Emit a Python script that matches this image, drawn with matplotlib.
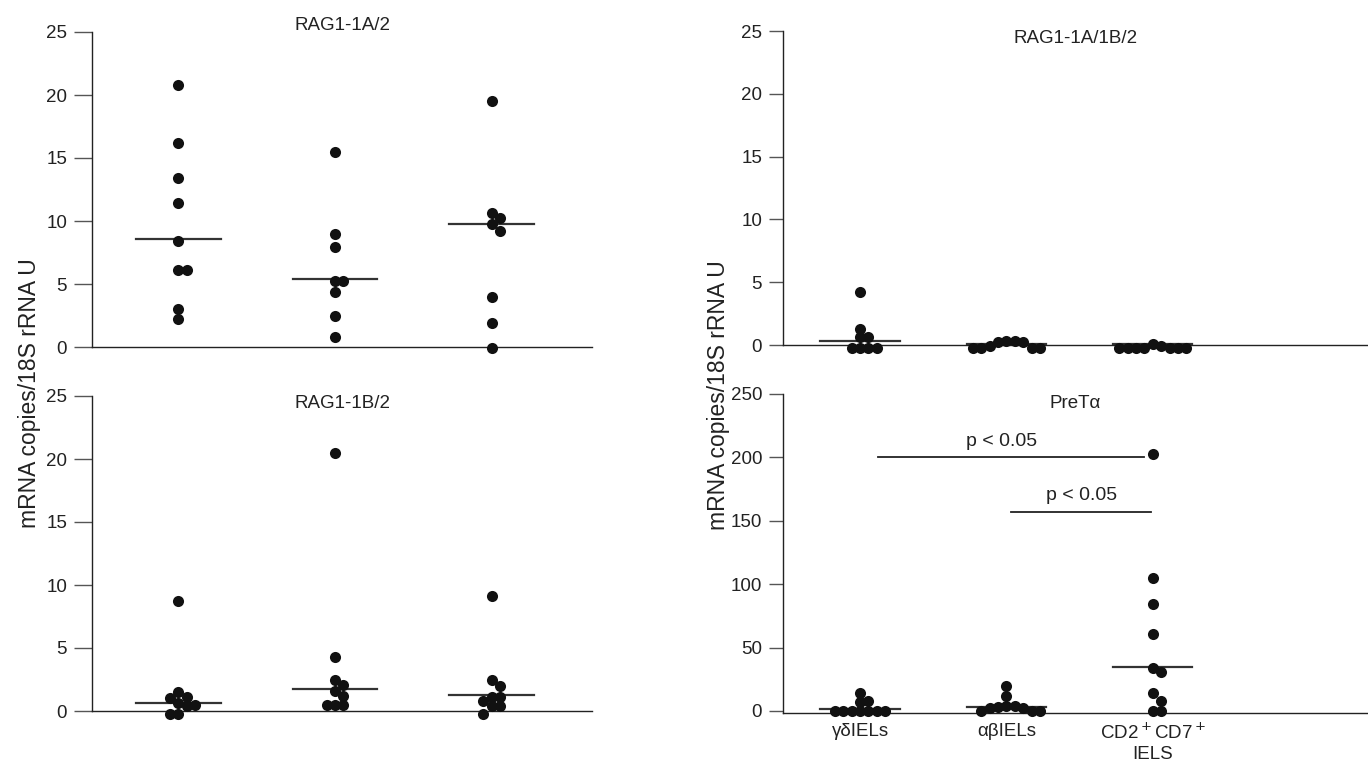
import numpy as np
import matplotlib.pyplot as plt

plt.rcParams['font.family'] = ['Liberation Sans', 'DejaVu Sans']

# values
groups = [1, 2, 3]
group_labels = ["γδIELs", "αβIELs", "CD2$^+$CD7$^+$\nIELS"]

rag_1a = [[20.8, 16.2, 13.4, 11.4, 8.4, 6.1, 6.1, 3.0, 2.2],
          [15.5, 9.0, 7.9, 5.2, 5.2, 4.4, 2.5, 0.8],
          [19.5, 10.6, 10.2, 9.8, 9.2, 4.0, 1.9, -0.1]]
rag_1a_med = [8.6, 5.4, 9.8]

rag_1b = [[8.7, 1.5, 1.1, 1.0, 0.6, 0.5, 0.4, -0.2, -0.2],
          [20.5, 4.3, 2.5, 2.1, 1.6, 1.2, 0.5, 0.5, 0.5],
          [9.1, 2.5, 2.0, 1.1, 1.1, 0.8, 0.4, 0.4, -0.2]]
rag_1b_med = [0.65, 1.75, 1.3]

rag_1a1b = [[4.2, 1.3, 0.6, 0.6, -0.2, -0.2, -0.2, -0.2],
            [0.35, 0.3, 0.2, 0.2, -0.1, -0.2, -0.2, -0.2, -0.2],
            [0.1, -0.1, -0.2, -0.2, -0.2, -0.2, -0.2, -0.2, -0.2]]
rag_1a1b_med = [0.35, 0.05, 0.05]

pret = [[14, 8, 7, 0, 0, 0, 0, 0, 0, 0],
        [20, 12, 4, 4, 3, 2, 2, 0, 0, 0],
        [203, 105, 84, 61, 34, 31, 14, 8, 0, 0]]
pret_med = [1.3, 3.5, 34.7]

W, H = 1368, 768
fig = plt.figure(figsize=(W / 100, H / 100), dpi=100)


def rect(x0, x1, y0, y1):
    return [x0 / W, 1 - y1 / H, (x1 - x0) / W, (y1 - y0) / H]


def swarm(ax, vals, xc, d=8.4):
    # simple beeswarm in pixel space
    bb = ax.get_window_extent()
    x0, x1 = ax.get_xlim()
    y0, y1 = ax.get_ylim()
    ppx = bb.width / (x1 - x0)
    ppy = bb.height / (y1 - y0)
    placed = []
    xs = []
    for v in vals:
        yp = v * ppy
        k = 0
        while True:
            off = ((k + 1) // 2) * (1 if k % 2 else -1) * d if k else 0.0
            if all((off - px) ** 2 + (yp - py) ** 2 >= (d * 0.98) ** 2 for px, py in placed):
                break
            k += 1
        placed.append((off, yp))
        xs.append(xc + off / ppx)
    return xs


def panel(r, xlim, ylim, yticks, data, med, title, ty, tick_len):
    ax = fig.add_axes(r)
    ax.set_xlim(*xlim)
    ax.set_ylim(*ylim)
    for s in ["top", "right"]:
        ax.spines[s].set_visible(False)
    for s in ["left", "bottom"]:
        ax.spines[s].set_linewidth(1.0)
        ax.spines[s].set_color("#222222")
    ax.set_yticks(yticks)
    ax.tick_params(axis="y", length=tick_len, width=1.0, color="#555555",
                   labelsize=13.5, pad=5, labelcolor="#222222")
    ax.set_xticks([])
    for g, vals, m in zip(groups, data, med):
        xs = swarm(ax, vals, g)
        ax.scatter(xs, vals, s=64, color="#111111", zorder=3, clip_on=False,
                   linewidths=0)
        ax.plot([g - 0.27, g + 0.27], [m, m], color="#333333", lw=1.6, zorder=2)
    ax.text(0.5, ty, title, transform=ax.transAxes, ha="center", va="center",
            fontsize=13.5, color="#222222")
    return ax


lim_l = (0.45, 3.64)
lim_r = (0.474, 4.47)
t5 = [0, 5, 10, 15, 20, 25]

panel(rect(92, 592, 32, 347), lim_l, (0, 25), t5, rag_1a, rag_1a_med,
      "RAG1-1A/2", 1.022, 13)
panel(rect(92, 592, 396, 711), lim_l, (0, 25), t5, rag_1b, rag_1b_med,
      "RAG1-1B/2", 0.975, 13)
panel(rect(783, 1368, 31, 345), lim_r, (0, 25), t5, rag_1a1b, rag_1a1b_med,
      "RAG1-1A/1B/2", 0.975, 10)
ax4 = panel(rect(783, 1368, 394, 713), lim_r, (-1.6, 250), [0, 50, 100, 150, 200, 250],
            pret, pret_med, "PreTα", 0.97, 10)

ax4.set_xticks(groups)
ax4.set_xticklabels(group_labels, fontsize=13.5, color="#222222", linespacing=1.25)
ax4.tick_params(axis="x", length=0, pad=7)

# significance bars
ax4.plot([1.12, 2.94], [200, 200], color="#222222", lw=1.3)
ax4.text(1.97, 206, "p < 0.05", ha="center", va="bottom", fontsize=14, color="#222222")
ax4.plot([2.03, 2.99], [157, 157], color="#222222", lw=1.3)
ax4.text(2.51, 163, "p < 0.05", ha="center", va="bottom", fontsize=14, color="#222222")

fig.text(30 / W, 1 - 393 / H, "mRNA copies/18S rRNA U", rotation=90,
         ha="center", va="center", fontsize=16.5, color="#222222")
fig.text(719 / W, 1 - 395 / H, "mRNA copies/18S rRNA U", rotation=90,
         ha="center", va="center", fontsize=16.5, color="#222222")

fig.savefig("out.png", dpi=100)
